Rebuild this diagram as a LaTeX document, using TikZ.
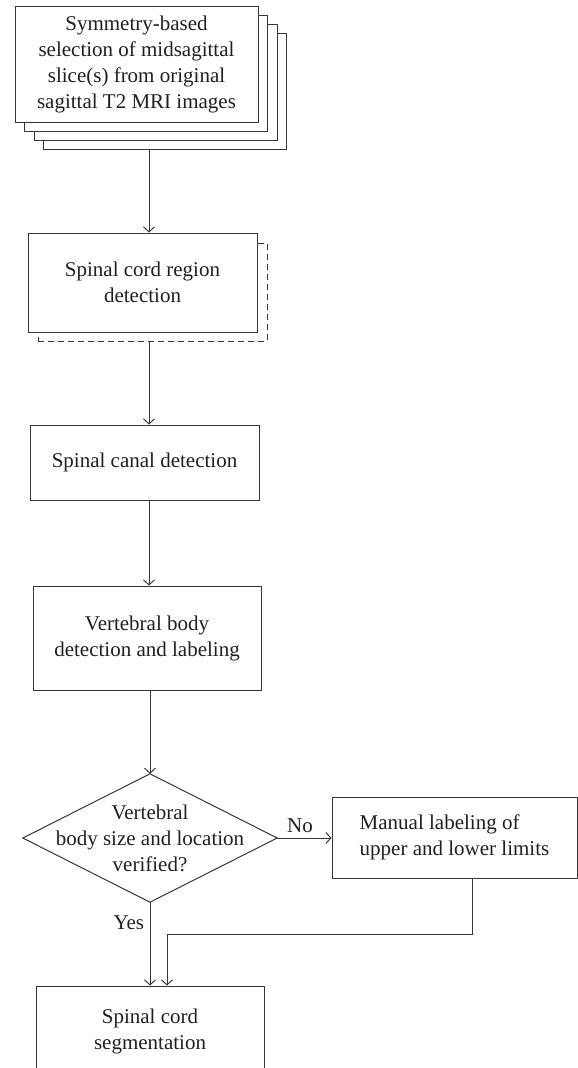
\documentclass[tikz,border=0pt]{standalone}
\usepackage{fontspec}
\setmainfont{Liberation Serif}
\usetikzlibrary{arrows.meta,positioning,calc}
\definecolor{linegray}{RGB}{55,55,55}
\definecolor{textgray}{RGB}{35,31,32}
\tikzset{
  procbox/.style={draw=linegray,line width=1pt,fill=white,align=center,inner sep=0pt},
  flowarrow/.style={draw=linegray,line width=1pt,-{Straight Barb[length=5pt,width=11pt]}},
}

\begin{document}
\begin{tikzpicture}[x=1pt,y=-1pt,font=\fontsize{21}{26}\selectfont,text=textgray]
    \clip (0,0) rectangle (578,1068);
    \coordinate (spine) at (149,0);

    % stack of slices
    \foreach \k in {3,2,1} {
      \node[procbox,minimum width=243pt,minimum height=116pt] (slice\k)
        at ({136.5+9.5*\k},{64+9.3*\k}) {};
    }
    \node[procbox,minimum width=243pt,minimum height=116pt] (slice0) at (136.5,64)
      {Symmetry-based\\selection of midsagittal\\slice(s) from original\\sagittal T2 MRI images};

    % processing steps
    \node[procbox,dash pattern=on 6pt off 4pt,minimum width=229pt,minimum height=98pt]
      (regionbg) at (152.5,292) {};
    \node[procbox,minimum width=229pt,minimum height=99pt] (region) at (142.5,282.5)
      {Spinal cord region\\detection};
    \node[procbox,minimum width=229pt,minimum height=75pt] (canal) at (144.5,462.5)
      {Spinal canal detection};
    \node[procbox,minimum width=228pt,minimum height=104pt] (vbody) at (147,638)
      {Vertebral body\\detection and labeling};

    % decision
    \node[align=center,minimum width=254pt,minimum height=128pt,inner sep=0pt] (check)
      at (150,838) {Vertebral\\body size and location\\verified?};
    \draw[linegray,line width=1pt] (check.north) -- (check.east) -- (check.south)
      -- (check.west) -- cycle;

    \node[procbox,align=left,minimum width=245pt,minimum height=81pt] (manual)
      at (454.5,837.5) {Manual labeling of\\upper and lower limits};
    \node[procbox,minimum width=228pt,minimum height=90pt] (segment) at (150,1031)
      {Spinal cord\\segmentation};

    % connectors
    \draw[flowarrow] (slice3.south -| spine) -- (region.north -| spine);
    \draw[flowarrow] (regionbg.south -| spine) -- (canal.north -| spine);
    \draw[flowarrow] (canal.south -| spine) -- (vbody.north -| spine);
    \draw[flowarrow] (vbody.south -| check.north) -- (check.north);
    \draw[flowarrow] (check.east) -- node[above=1pt,pos=0.42] {No} (manual.west |- check.east);
    \draw[flowarrow] (check.south) -- node[left=2pt,pos=0.25] {Yes} (segment.north -| check.south);
    \coordinate (join) at (472,934);
    \coordinate (merge) at (167,934);
    \draw[flowarrow] (manual.south -| join) -- (join) -- (merge) -- (merge |- segment.north);
\end{tikzpicture}
\end{document}
